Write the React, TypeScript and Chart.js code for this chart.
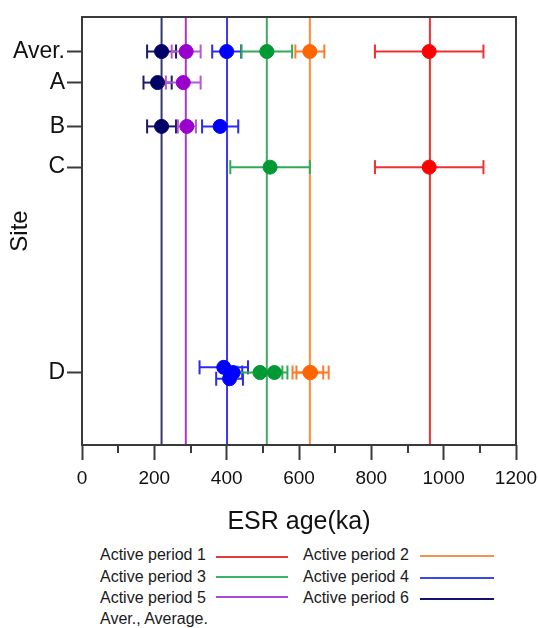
import React, { useEffect, useLayoutEffect, useRef } from 'react';
import { Chart, registerables } from 'chart.js';

Chart.register(...registerables);

// Sites (y axis)
const siteLabels = ['Aver.', 'A', 'B', 'C', 'D'];
const sitePositions = [1, 1.9, 3.17, 4.35, 10.3];
const siteAxisMax = 12.4;

// ESR age axis
const ageMin = 0;
const ageMax = 1200;
const ageStep = 100;
const ageLabelStep = 200;

// Active periods
const periodNames = [
  'Active period 1',
  'Active period 2',
  'Active period 3',
  'Active period 4',
  'Active period 5',
  'Active period 6',
];
const periodMeans = [962, 630, 511, 401, 287, 220];
const pointColors = ['#ff0000', '#ff6600', '#009933', '#0000ff', '#9900cc', '#000066'];
const lineColors = ['#ef3434', '#ff8a3a', '#3aae5c', '#3a3aee', '#a53cc8', '#36366e'];
const barColors = ['#f03030', '#ff7a2a', '#2faa55', '#2a2af0', '#b855d8', '#1a1a66'];
const legendColors = ['#e03a3a', '#f09550', '#3ab364', '#3a48f0', '#a84ad8', '#121270'];

// samples: [site index, age (ka), error (ka), vertical jitter (site units)]
const period1Samples = [[0, 960, 150, 0], [3, 960, 150, 0]];
const period2Samples = [[0, 630, 40, 0], [4, 632, 50, 0], [4, 630, 37, 0]];
const period3Samples = [[0, 511, 70, 0], [3, 520, 110, 0], [4, 492, 62, 0], [4, 532, 36, 0]];
const period4Samples = [[0, 400, 40, 0], [2, 382, 50, 0], [4, 392, 67, -0.15], [4, 408, 37, 0.18], [4, 418, 25, 0]];
const period5Samples = [[0, 288, 40, 0], [1, 280, 48, 0], [2, 290, 25, 0]];
const period6Samples = [[0, 220, 40, 0], [1, 209, 39, 0], [2, 220, 40, 0]];

const periodSamples = [period1Samples, period2Samples, period3Samples, period4Samples, period5Samples, period6Samples];

const FONT = "'Liberation Sans', Arial, Helvetica, sans-serif";

const framePlugin = {
  id: 'frameAndMinorTicks',
  afterDraw(chart: any) {
    const { ctx, chartArea } = chart;
    const xs = chart.scales.x;
    ctx.save();
    ctx.strokeStyle = '#3a3a3a';
    ctx.lineWidth = 2;
    ctx.strokeRect(chartArea.left, chartArea.top, chartArea.right - chartArea.left, chartArea.bottom - chartArea.top);
    // minor ticks
    xs.ticks.forEach((t: any) => {
      if (t.value % ageLabelStep !== 0) {
        const px = Math.round(xs.getPixelForValue(t.value));
        ctx.beginPath();
        ctx.moveTo(px, chartArea.bottom);
        ctx.lineTo(px, chartArea.bottom + 8);
        ctx.stroke();
      }
    });
    ctx.restore();
  },
};

function buildDatasets() {
  const ds: any[] = [];
  periodMeans.forEach((m, i) => {
    ds.push({
      data: [{ x: m, y: 0 }, { x: m, y: siteAxisMax }],
      showLine: true,
      borderColor: lineColors[i],
      borderWidth: 2,
      pointRadius: 0,
      order: 3,
    });
  });
  periodSamples.forEach((samples, i) => {
    samples.forEach((s) => {
      const y = sitePositions[s[0]] + s[3];
      ds.push({
        data: [{ x: s[1] - s[2], y }, { x: s[1] + s[2], y }],
        showLine: true,
        borderColor: barColors[i],
        borderWidth: 2,
        pointStyle: 'line',
        pointRotation: 90,
        pointRadius: 7,
        pointBorderColor: barColors[i],
        pointBorderWidth: 2,
        order: 2,
      });
    });
  });
  periodSamples.forEach((samples, i) => {
    ds.push({
      data: samples.map((s) => ({ x: s[1], y: sitePositions[s[0]] + s[3] })),
      showLine: false,
      backgroundColor: pointColors[i],
      borderColor: pointColors[i],
      pointRadius: 7,
      pointBorderWidth: 1,
      order: 1,
    });
  });
  return ds;
}

export default function App() {
  const ref = useRef<HTMLCanvasElement>(null);

  useLayoutEffect(() => {
    const prev = document.body.style.margin;
    document.body.style.margin = '0';
    return () => {
      document.body.style.margin = prev;
    };
  }, []);

  useEffect(() => {
    if (!ref.current) return;
    const chart = new Chart(ref.current, {
      type: 'scatter',
      data: { datasets: buildDatasets() },
      options: {
        animation: false,
        responsive: false,
        events: [],
        layout: { padding: { top: 3, right: 22, left: 0, bottom: 0 } },
        plugins: { legend: { display: false }, tooltip: { enabled: false } },
        scales: {
          x: {
            type: 'linear',
            min: ageMin,
            max: ageMax,
            border: { display: false },
            grid: {
              drawOnChartArea: false,
              drawTicks: true,
              tickLength: 15,
              tickWidth: 2,
              tickColor: (c: any) => (c.tick && c.tick.value % ageLabelStep === 0 ? '#3a3a3a' : 'rgba(0,0,0,0)'),
            },
            ticks: {
              stepSize: ageStep,
              autoSkip: false,
              maxRotation: 0,
              padding: 7,
              color: '#111',
              font: { family: FONT, size: 19 },
              callback: (v: any) => (Number(v) % ageLabelStep === 0 ? String(v) : ''),
            },
            title: {
              display: true,
              text: 'ESR age(ka)',
              color: '#111',
              font: { family: FONT, size: 25 },
              padding: { top: 0, bottom: 3 },
            },
            afterFit: (s: any) => {
              s.height = 95;
              s.paddingLeft = 0;
              s.paddingRight = 0;
            },
          },
          y: {
            type: 'linear',
            reverse: true,
            min: 0,
            max: siteAxisMax,
            border: { display: false },
            afterBuildTicks: (s: any) => {
              s.ticks = sitePositions.map((v) => ({ value: v }));
            },
            grid: {
              drawOnChartArea: false,
              drawTicks: true,
              tickLength: 15,
              tickWidth: 2,
              tickColor: '#3a3a3a',
            },
            ticks: {
              autoSkip: false,
              padding: 2,
              color: '#111',
              font: { family: FONT, size: 23 },
              callback: (v: any) => {
                const idx = sitePositions.indexOf(Number(v));
                return idx >= 0 ? siteLabels[idx] : '';
              },
            },
            title: {
              display: true,
              text: 'Site',
              color: '#111',
              font: { family: FONT, size: 24, lineHeight: 1 },
              padding: { top: 0, bottom: 0 },
            },
            afterFit: (s: any) => {
              s.width = 74;
              s.paddingTop = 0;
              s.paddingBottom = 0;
            },
          },
        },
      } as any,
      plugins: [framePlugin],
    });
    return () => chart.destroy();
  }, []);

  const textRows = [547, 569, 590];
  const lineRowsCol1 = [549, 569, 589];
  const lineRowsCol2 = [548, 570, 591];
  const textStyle = (left: number, center: number): React.CSSProperties => ({
    position: 'absolute',
    left,
    top: center - 10,
    lineHeight: '20px',
    fontSize: 16,
    fontFamily: FONT,
    color: '#1a1a1a',
    whiteSpace: 'nowrap',
  });

  return (
    <div style={{ position: 'relative', width: 538, height: 628, overflow: 'hidden', background: '#fff' }}>
      <div style={{ position: 'absolute', left: 8, top: 8, width: 530, height: 620 }}>
        <canvas ref={ref} width={530} height={532} style={{ display: 'block' }} />
        {periodNames.map((name, i) => {
          const col = i % 2;
          const row = Math.floor(i / 2);
          const textLeft = col === 0 ? 92 : 295;
          const lineLeft = col === 0 ? 208 : 412;
          const lineW = col === 0 ? 72 : 74;
          const ly = col === 0 ? lineRowsCol1[row] : lineRowsCol2[row];
          return (
            <React.Fragment key={name}>
              <div style={textStyle(textLeft, textRows[row])}>{name}</div>
              <div
                style={{
                  position: 'absolute',
                  left: lineLeft,
                  top: ly - 1,
                  width: lineW,
                  height: 2,
                  background: legendColors[i],
                }}
              />
            </React.Fragment>
          );
        })}
        <div style={textStyle(92, 611)}>Aver., Average.</div>
      </div>
    </div>
  );
}
